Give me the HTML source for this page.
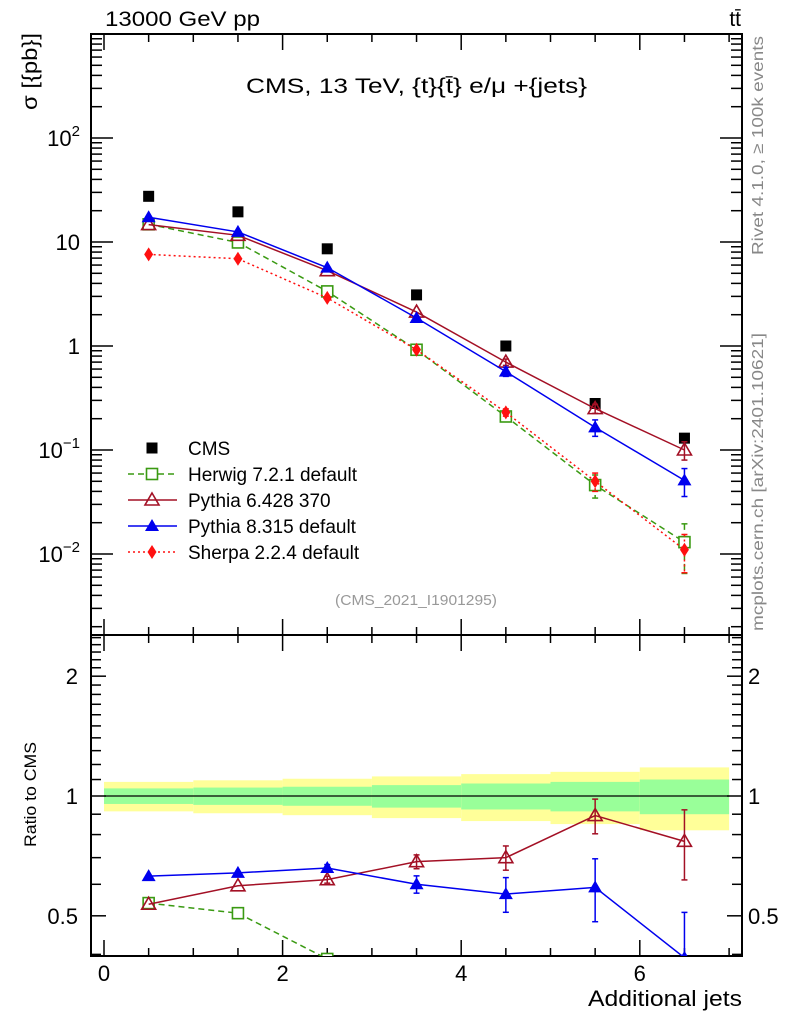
<!DOCTYPE html>
<html><head><meta charset="utf-8"><style>
html,body{margin:0;padding:0;background:#fff;width:786px;height:1024px;overflow:hidden;}
svg{display:block;font-family:"Liberation Sans",sans-serif;}
</style></head><body>
<svg id="chart" width="786" height="1024" viewBox="0 0 786 1024" xmlns="http://www.w3.org/2000/svg">
<g id="bands"></g>
<g id="axes"></g>
<g id="series"></g>
<text x="105" y="26" font-size="21" textLength="155" lengthAdjust="spacingAndGlyphs">13000 GeV pp</text>
<text x="741" y="26" font-size="21" text-anchor="end">tt̄</text>
<text x="246" y="93" font-size="21" textLength="341" lengthAdjust="spacingAndGlyphs">CMS, 13 TeV, {t}{t̄} e/μ +{jets}</text>
<text transform="translate(37,110) rotate(-90)" font-size="21" textLength="77" lengthAdjust="spacingAndGlyphs">σ [{pb}]</text>
<text transform="translate(36,847) rotate(-90)" font-size="17" textLength="105" lengthAdjust="spacingAndGlyphs">Ratio to CMS</text>
<text x="588" y="1006" font-size="22" textLength="154" lengthAdjust="spacingAndGlyphs">Additional jets</text>
<text transform="translate(763,255) rotate(-90)" font-size="16" fill="#888" textLength="219" lengthAdjust="spacingAndGlyphs">Rivet 4.1.0, ≥ 100k events</text>
<text transform="translate(763,631) rotate(-90)" font-size="16" fill="#888" textLength="298" lengthAdjust="spacingAndGlyphs">mcplots.cern.ch [arXiv:2401.10621]</text>
<text x="335" y="605" font-size="15" fill="#999" textLength="162" lengthAdjust="spacingAndGlyphs">(CMS_2021_I1901295)</text>
<g id="legend"></g>
</svg>
<script>
const categories = [0.5, 1.5, 2.5, 3.5, 4.5, 5.5, 6.5];
const binEdges = [0, 1, 2, 3, 4, 5, 6, 7];
const cmsValues = [27.5, 19.5, 8.6, 3.1, 1.0, 0.28, 0.13];
const herwigValues = [14.8, 9.9, 3.35, 0.92, 0.21, 0.046, 0.013];
const pythia6Values = [14.7, 11.6, 5.3, 2.12, 0.70, 0.25, 0.10];
const pythia8Values = [17.3, 12.5, 5.67, 1.86, 0.567, 0.165, 0.051];
const sherpaValues = [7.6, 6.9, 2.9, 0.92, 0.23, 0.05, 0.011];
const herwigErr = [0.01, 0.01, 0.02, 0.04, 0.08, 0.25, 0.5];
const pythia6Err = [0.01, 0.01, 0.02, 0.04, 0.07, 0.1, 0.2];
const pythia8Err = [0.01, 0.01, 0.02, 0.05, 0.1, 0.18, 0.3];
const sherpaErr = [0.01, 0.01, 0.02, 0.04, 0.08, 0.2, 0.4];
const cmsTotalErr = [0.085, 0.095, 0.105, 0.12, 0.135, 0.15, 0.18];
const cmsStatErr = [0.045, 0.05, 0.055, 0.065, 0.075, 0.085, 0.10];
const xTickLabels = ["0", "2", "4", "6"];
const yTickLabels = ["10^-2", "10^-1", "1", "10", "10^2"];
const ratioTickLabels = ["0.5", "1", "2"];

const NS = "http://www.w3.org/2000/svg";
const L = 91, R = 742, T = 34, MID = 635, B = 956;
const xs = v => 104 + v * 89.3;
const ys = v => 346 - Math.log10(v) * 104;
const yr = v => 796 - Math.log10(v) * 398;
function mk(parent, tag, attrs) {
  const e = document.createElementNS(NS, tag);
  for (const k in attrs) e.setAttribute(k, attrs[k]);
  parent.appendChild(e);
  return e;
}
const svg = document.getElementById('chart');
const axes = document.getElementById('axes');
const bands = document.getElementById('bands');
const series = document.getElementById('series');
const legend = document.getElementById('legend');

for (let i = 0; i < categories.length; i++) {
  const x0 = xs(binEdges[i]), x1 = xs(binEdges[i + 1]);
  let e = mk(bands, 'rect', {x: x0, y: yr(1 + cmsTotalErr[i]), width: x1 - x0, height: yr(1 - cmsTotalErr[i]) - yr(1 + cmsTotalErr[i]), fill: '#ffff99'});
  
  
  e = mk(bands, 'rect', {x: x0, y: yr(1 + cmsStatErr[i]), width: x1 - x0, height: yr(1 - cmsStatErr[i]) - yr(1 + cmsStatErr[i]), fill: '#99ff99'});
  
  
}
let ref = mk(axes, 'line', {x1: xs(0), x2: xs(7), y1: yr(1), y2: yr(1), stroke: '#000', 'stroke-width': 1.2});



for (const [y0, y1, nm] of [[T, MID, 'main-frame'], [MID, B, 'ratio-frame']]) {
  const f = mk(axes, 'rect', {x: L, y: y0, width: R - L, height: y1 - y0, fill: 'none', stroke: '#000', 'stroke-width': 2});
  
  
}
function tick(x1, y1, x2, y2) { mk(axes, 'line', {x1, y1, x2, y2, stroke: '#000', 'stroke-width': 1.5}); }
for (let v = 0; v <= 7; v += 0.5) {
  const x = xs(v);
  const len = (v % 2 === 0) ? 16 : 8;
  tick(x, T, x, T + len);
  tick(x, MID, x, MID + len); tick(x, MID, x, MID - len);
  tick(x, B, x, B - len);
}
xTickLabels.forEach(t => {
  const e = mk(axes, 'text', {x: xs(+t), y: 981, 'font-size': 22, 'text-anchor': 'middle'});
  e.textContent = t;
  
  
});
for (let d = -3; d <= 2; d++) {
  for (let m = 1; m <= 9; m++) {
    const y = ys(m * Math.pow(10, d));
    if (y < T || y > MID) continue;
    const len = m === 1 ? 22 : 11;
    tick(L, y, L + len, y); tick(R, y, R - len, y);
  }
}
yTickLabels.forEach((t, i) => {
  const y = ys(Math.pow(10, i - 2));
  const e = mk(axes, 'text', {x: 80, y: y + 8, 'font-size': 22, 'text-anchor': 'end'});
  
  
  if (t.indexOf('^') >= 0) {
    const [b, p] = t.split('^');
    e.appendChild(document.createTextNode(b));
    const ts = document.createElementNS(NS, 'tspan');
    ts.setAttribute('dy', -10); ts.setAttribute('font-size', 15); ts.textContent = p.replace('-', '−');
    e.appendChild(ts);
  } else e.textContent = t;
});
for (let v = 0.4; v <= 2.55; v += 0.1) {
  const r = Math.round(v * 10) / 10;
  const y = yr(r);
  if (y < MID || y > B) continue;
  const maj = (r === 0.5 || r === 1 || r === 2);
  const len = maj ? 15 : 10;
  tick(L, y, L + len, y); tick(R, y, R - len, y);
}
ratioTickLabels.forEach(t => {
  const y = yr(+t) + 8;
  let e = mk(axes, 'text', {x: 78, y, 'font-size': 22, 'text-anchor': 'end'});
  e.textContent = t;
  
  
  e = mk(axes, 'text', {x: 748, y, 'font-size': 22});
  e.textContent = t;
  
  
});

function marker(g, type, x, y, color) {
  if (type === 'square') mk(g, 'rect', {x: x - 5.5, y: y - 5.5, width: 11, height: 11, fill: color});
  if (type === 'osquare') mk(g, 'rect', {x: x - 5.5, y: y - 5.5, width: 11, height: 11, fill: '#fff', stroke: color, 'stroke-width': 1.6});
  if (type === 'otri') mk(g, 'path', {d: `M${x} ${y - 7}L${x + 7} ${y + 5}L${x - 7} ${y + 5}Z`, fill: 'none', stroke: color, 'stroke-width': 1.6});
  if (type === 'tri') mk(g, 'path', {d: `M${x} ${y - 7}L${x + 7} ${y + 5}L${x - 7} ${y + 5}Z`, fill: color});
  if (type === 'diamond') mk(g, 'path', {d: `M${x} ${y - 7}L${x + 4.5} ${y}L${x} ${y + 7}L${x - 4.5} ${y}Z`, fill: color});
}
const clipDefs = mk(svg, 'defs', {});
const c1 = mk(clipDefs, 'clipPath', {id: 'cm'}); mk(c1, 'rect', {x: L, y: T, width: R - L, height: MID - T});
const c2 = mk(clipDefs, 'clipPath', {id: 'cr'}); mk(c2, 'rect', {x: L, y: MID, width: R - L, height: B - MID});

const models = [
  {name: 'herwig', vals: herwigValues, err: herwigErr, color: '#3a9a12', dash: '6,4', m: 'osquare', label: 'Herwig 7.2.1 default'},
  {name: 'pythia6', vals: pythia6Values, err: pythia6Err, color: '#a31025', dash: '', m: 'otri', label: 'Pythia 6.428 370'},
  {name: 'pythia8', vals: pythia8Values, err: pythia8Err, color: '#0000ee', dash: '', m: 'tri', label: 'Pythia 8.315 default'},
  {name: 'sherpa', vals: sherpaValues, err: sherpaErr, color: '#ff1010', dash: '2,3', m: 'diamond', label: 'Sherpa 2.2.4 default'}
];
const gm = mk(series, 'g', {'clip-path': 'url(#cm)'});
const gr = mk(series, 'g', {'clip-path': 'url(#cr)'});
cmsValues.forEach((v, i) => {
  const g = mk(gm, 'g', {});
  
  
  marker(g, 'square', xs(categories[i]), ys(v), '#000');
});
models.forEach(md => {
  for (const [g0, sc, valFn] of [[gm, ys, (v, i) => v], [gr, yr, (v, i) => v / cmsValues[i]]]) {
    const g = mk(g0, 'g', {});
    
    
    const pts = md.vals.map((v, i) => [xs(categories[i]), sc(valFn(v, i))]);
    mk(g, 'polyline', {points: pts.map(p => p.join(',')).join(' '), fill: 'none', stroke: md.color, 'stroke-width': 1.5, 'stroke-dasharray': md.dash});
    md.vals.forEach((v, i) => {
      const r = valFn(v, i), x = xs(categories[i]);
      const y1 = sc(r * (1 + md.err[i])), y2 = sc(r * Math.max(0.05, 1 - md.err[i]));
      if (y2 - y1 > 6) {
        mk(g, 'line', {x1: x, x2: x, y1, y2, stroke: md.color, 'stroke-width': 1.5, 'stroke-dasharray': md.dash});
        mk(g, 'line', {x1: x - 3, x2: x + 3, y1, y2: y1, stroke: md.color, 'stroke-width': 1.5});
        mk(g, 'line', {x1: x - 3, x2: x + 3, y1: y2, y2, stroke: md.color, 'stroke-width': 1.5});
      }
      marker(g, md.m, x, sc(r), md.color);
    });
  }
});
const rows = [{label: 'CMS', m: 'square', color: '#000', dash: null}].concat(models);
rows.forEach((rw, i) => {
  const y = 448 + i * 26;
  const g = mk(legend, 'g', {});
  
  
  if (rw.dash !== null) mk(g, 'line', {x1: 128, x2: 177, y1: y, y2: y, stroke: rw.color, 'stroke-width': 1.5, 'stroke-dasharray': rw.dash});
  marker(g, rw.m, 152, y, rw.color);
  const t = mk(g, 'text', {x: 188, y: y + 7, 'font-size': 19});
  t.textContent = rw.label;
});
</script>
</body></html>
